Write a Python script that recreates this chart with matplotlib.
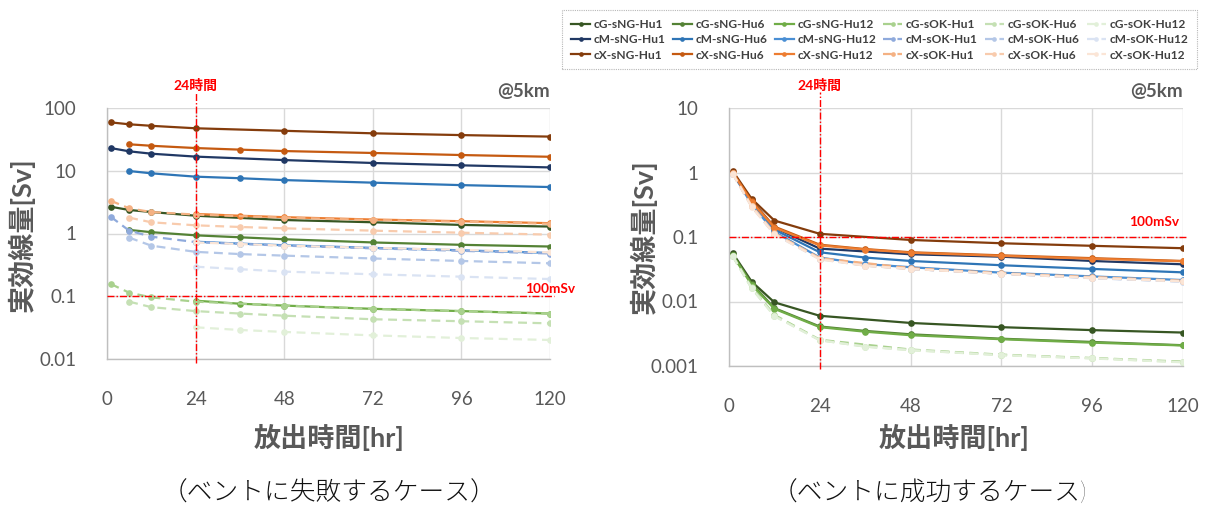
import matplotlib
matplotlib.use("Agg")
import matplotlib.pyplot as plt
from matplotlib import transforms

plt.rcParams['font.family'] = ['Lato', 'Noto Sans CJK JP', 'DejaVu Sans']

# ---- data -------------------------------------------------------------
hours = [1, 6, 12, 24, 36, 48, 72, 96, 120]

series_names = [
    "cG-sNG-Hu1", "cG-sNG-Hu6", "cG-sNG-Hu12", "cG-sOK-Hu1", "cG-sOK-Hu6", "cG-sOK-Hu12",
    "cM-sNG-Hu1", "cM-sNG-Hu6", "cM-sNG-Hu12", "cM-sOK-Hu1", "cM-sOK-Hu6", "cM-sOK-Hu12",
    "cX-sNG-Hu1", "cX-sNG-Hu6", "cX-sNG-Hu12", "cX-sOK-Hu1", "cX-sOK-Hu6", "cX-sOK-Hu12",
]

series_colors = [
    "#375623", "#548235", "#70AD47", "#A9D18E", "#C5E0B4", "#E2F0D9",
    "#203864", "#2E75B6", "#4A8FD4", "#8FAADC", "#B4C7E7", "#DAE3F3",
    "#843C0C", "#C55A11", "#ED7D31", "#F4B183", "#F8CBAD", "#FBE5D6",
]

# vent failure case (dose in Sv)
fail_cG_sNG_Hu1 = [2.67, 2.37, 2.2, 1.92, None, 1.64, 1.51, 1.37, 1.29]
fail_cG_sNG_Hu6 = [None, 1.14, 1.05, 0.935, 0.87, 0.81, 0.72, 0.66, 0.62]
fail_cG_sNG_Hu12 = [None, None, None, 0.085, 0.076, 0.071, 0.063, 0.058, 0.053]
fail_cG_sOK_Hu1 = [0.157, 0.114, 0.096, 0.082, None, 0.071, 0.063, 0.058, 0.053]
fail_cG_sOK_Hu6 = [None, 0.082, 0.067, 0.058, 0.053, 0.049, 0.043, 0.040, 0.037]
fail_cG_sOK_Hu12 = [None, None, None, 0.032, 0.029, 0.027, 0.0238, 0.0216, 0.0201]
fail_cM_sNG_Hu1 = [23.0, 20.4, 18.7, 16.8, None, 14.8, 13.3, 12.2, 11.3]
fail_cM_sNG_Hu6 = [None, 9.9, 9.1, 8.05, 7.6, 7.1, 6.46, 5.9, 5.5]
fail_cM_sNG_Hu12 = [None, None, None, 0.74, 0.69, 0.65, 0.59, 0.54, 0.49]
fail_cM_sOK_Hu1 = [1.85, 1.11, 0.89, 0.73, None, 0.64, 0.58, 0.53, 0.48]
fail_cM_sOK_Hu6 = [None, 0.86, 0.64, 0.51, 0.47, 0.444, 0.40, 0.365, 0.335]
fail_cM_sOK_Hu12 = [None, None, None, 0.296, 0.27, 0.247, 0.224, 0.205, 0.188]
fail_cX_sNG_Hu1 = [59.0, 55.0, 52.0, 47.5, None, 43.3, 39.5, 37.0, 35.0]
fail_cX_sNG_Hu6 = [None, 26.4, 25.0, 23.0, 21.7, 20.6, 19.2, 17.8, 16.7]
fail_cX_sNG_Hu12 = [None, None, None, 2.05, 1.92, 1.82, 1.67, 1.57, 1.46]
fail_cX_sOK_Hu1 = [3.33, 2.52, 2.2, 2.0, None, 1.79, 1.64, 1.54, 1.43]
fail_cX_sOK_Hu6 = [None, 1.79, 1.51, 1.35, 1.27, 1.21, 1.11, 1.03, 0.96]
fail_cX_sOK_Hu12 = [None, None, None, 0.72, 0.68, 0.64, 0.59, 0.55, 0.50]

# vent success case (dose in Sv)
ok_cG_sNG_Hu1 = [0.056, 0.0203, 0.0097, 0.0060, None, 0.00465, 0.0040, 0.0036, 0.0033]
ok_cG_sNG_Hu6 = [0.053, 0.019, 0.0079, 0.0041, 0.0035, 0.0031, 0.00265, 0.00236, 0.0021]
ok_cG_sNG_Hu12 = [0.052, 0.018, 0.0077, 0.0040, 0.0034, 0.0030, 0.0026, 0.0023, 0.00208]
ok_cG_sOK_Hu1 = [0.051, 0.0165, 0.0062, 0.00255, None, 0.0018, 0.0015, 0.00133, 0.00117]
ok_cG_sOK_Hu6 = [0.050, 0.016, 0.0060, 0.00252, 0.0020, 0.00177, 0.00148, 0.00132, 0.00115]
ok_cG_sOK_Hu12 = [0.050, 0.016, 0.0059, 0.0025, 0.0020, 0.00176, 0.00147, 0.00131, 0.00114]
ok_cM_sNG_Hu1 = [1.0, 0.37, 0.14, 0.066, None, 0.054, 0.0495, 0.0425, 0.0377]
ok_cM_sNG_Hu6 = [0.98, 0.34, 0.13, 0.058, 0.048, 0.0425, 0.0365, 0.032, 0.0283]
ok_cM_sNG_Hu12 = [0.97, 0.32, 0.12, 0.048, 0.038, 0.034, 0.028, 0.0245, 0.0215]
ok_cM_sOK_Hu1 = [0.96, 0.30, 0.112, 0.046, None, 0.032, 0.027, 0.0232, 0.0205]
ok_cM_sOK_Hu6 = [0.96, 0.30, 0.111, 0.046, 0.036, 0.032, 0.027, 0.023, 0.0204]
ok_cM_sOK_Hu12 = [0.95, 0.30, 0.110, 0.045, 0.036, 0.032, 0.027, 0.023, 0.0203]
ok_cX_sNG_Hu1 = [1.05, 0.39, 0.18, 0.112, None, 0.090, 0.080, 0.073, 0.067]
ok_cX_sNG_Hu6 = [1.0, 0.36, 0.145, 0.076, 0.065, 0.058, 0.052, 0.047, 0.0425]
ok_cX_sNG_Hu12 = [0.98, 0.35, 0.14, 0.074, 0.064, 0.057, 0.051, 0.046, 0.042]
ok_cX_sOK_Hu1 = [0.97, 0.30, 0.115, 0.047, None, 0.033, 0.0275, 0.024, 0.021]
ok_cX_sOK_Hu6 = [0.96, 0.30, 0.113, 0.046, 0.036, 0.032, 0.027, 0.0235, 0.0208]
ok_cX_sOK_Hu12 = [0.95, 0.29, 0.110, 0.045, 0.036, 0.032, 0.027, 0.0232, 0.0205]

fail_series = [
    fail_cG_sNG_Hu1, fail_cG_sNG_Hu6, fail_cG_sNG_Hu12, fail_cG_sOK_Hu1, fail_cG_sOK_Hu6, fail_cG_sOK_Hu12,
    fail_cM_sNG_Hu1, fail_cM_sNG_Hu6, fail_cM_sNG_Hu12, fail_cM_sOK_Hu1, fail_cM_sOK_Hu6, fail_cM_sOK_Hu12,
    fail_cX_sNG_Hu1, fail_cX_sNG_Hu6, fail_cX_sNG_Hu12, fail_cX_sOK_Hu1, fail_cX_sOK_Hu6, fail_cX_sOK_Hu12,
]
ok_series = [
    ok_cG_sNG_Hu1, ok_cG_sNG_Hu6, ok_cG_sNG_Hu12, ok_cG_sOK_Hu1, ok_cG_sOK_Hu6, ok_cG_sOK_Hu12,
    ok_cM_sNG_Hu1, ok_cM_sNG_Hu6, ok_cM_sNG_Hu12, ok_cM_sOK_Hu1, ok_cM_sOK_Hu6, ok_cM_sOK_Hu12,
    ok_cX_sNG_Hu1, ok_cX_sNG_Hu6, ok_cX_sNG_Hu12, ok_cX_sOK_Hu1, ok_cX_sOK_Hu6, ok_cX_sOK_Hu12,
]

x_ticks = [0, 24, 48, 72, 96, 120]
fail_y_ticks = [0.01, 0.1, 1, 10, 100]
fail_y_labels = ["0.01", "0.1", "1", "10", "100"]
ok_y_ticks = [0.001, 0.01, 0.1, 1, 10]
ok_y_labels = ["0.001", "0.01", "0.1", "1", "10"]

limit_dose = 0.1          # 100 mSv
marker_hour = 24

GRAY = "#595959"
RED = "#FF0000"

# ---- figure -------------------------------------------------------------
W, H = 1211, 508
fig = plt.figure(figsize=(W / 100, H / 100), dpi=100)


def fx(px):
    return px / W


def fy(py):
    return 1 - py / H


ax_fail = fig.add_axes([fx(107), fy(359), fx(550) - fx(107), fy(108) - fy(359)])
ax_ok = fig.add_axes([fx(729), fy(366), fx(1183) - fx(729), fy(108) - fy(366)])


def style_axes(ax, yticks, ylabels):
    ax.set_yscale("log")
    ax.set_xlim(0, 120)
    ax.set_ylim(yticks[0], yticks[-1])
    ax.set_xticks(x_ticks)
    ax.set_xticklabels([str(t) for t in x_ticks])
    ax.set_yticks(yticks)
    ax.set_yticklabels(ylabels)
    ax.minorticks_off()
    ax.tick_params(axis="both", length=0, labelsize=13.5, labelcolor=GRAY)
    ax.tick_params(axis="x", pad=23)
    ax.tick_params(axis="y", pad=22)
    ax.grid(True, color="#D9D9D9", linewidth=1.0)
    ax.set_axisbelow(True)
    for side in ("top", "right"):
        ax.spines[side].set_visible(False)
    for side in ("left", "bottom"):
        ax.spines[side].set_color("#BFBFBF")
        ax.spines[side].set_linewidth(1.0)


def draw_series(ax, data_list):
    handles = []
    for name, color, vals in zip(series_names, series_colors, data_list):
        xs = [h for h, v in zip(hours, vals) if v is not None]
        ys = [v for v in vals if v is not None]
        dashed = "sOK" in name
        ls = (0, (4, 2.5)) if dashed else "-"
        (ln,) = ax.plot(xs, ys, color=color, linestyle=ls, linewidth=1.6,
                        marker="o", markersize=4.8, markeredgewidth=0,
                        label=name, zorder=3)
        handles.append(ln)
    return handles


def draw_guides(ax, top_frac, bottom_frac, label_x, label_dy_px, label24_y):
    ax.plot([marker_hour, marker_hour], [bottom_frac, top_frac],
            transform=ax.get_xaxis_transform(), color=RED,
            linestyle=(0, (5, 1.5, 1, 1.5)), linewidth=1.0, clip_on=False, zorder=4)
    ax.plot([0, 1.01], [limit_dose, limit_dose],
            transform=ax.get_yaxis_transform(), color=RED,
            linestyle=(0, (5, 1.5, 1, 1.5)), linewidth=1.0, clip_on=False, zorder=4)
    ax.text(marker_hour, label24_y, "24時間", transform=ax.get_xaxis_transform(),
            color=RED, fontsize=10, fontweight="bold", ha="center", va="center")
    off = transforms.offset_copy(ax.get_yaxis_transform(), fig=fig, x=0, y=label_dy_px,
                                 units="dots")
    ax.text(label_x, limit_dose, "100mSv", transform=off, color=RED,
            fontsize=9.8, fontweight="bold", ha="right", va="bottom")
    ax.text(1.0, 1.065, "@5km", transform=ax.transAxes, color=GRAY,
            fontsize=13.5, fontweight="bold", ha="right", va="center")


style_axes(ax_fail, fail_y_ticks, fail_y_labels)
style_axes(ax_ok, ok_y_ticks, ok_y_labels)

handles = draw_series(ax_fail, fail_series)
draw_series(ax_ok, ok_series)

draw_guides(ax_fail, (359 - 92) / 251, -0.016, (575 - 107) / 443, 1, (359 - 85) / 251)
draw_guides(ax_ok, (366 - 92) / 258, -0.01, (1179 - 729) / 454, 9, (366 - 85) / 258)

# axis titles
for cx, cy in ((21, 235), (643, 237)):
    fig.text(fx(cx), fy(cy), "実効線量[Sv]", rotation=90, fontsize=19.5,
             fontweight="bold", color=GRAY, ha="center", va="center")
for cx in (329, 954):
    fig.text(fx(cx), fy(437), "放出時間[hr]", fontsize=19.5, fontweight="bold",
             color=GRAY, ha="center", va="center")

# case captions
fig.text(fx(329), fy(493), "（ベントに失敗するケース）", fontsize=18.5,
         fontweight="light", color="#111111", ha="center", va="center")
fig.text(fx(929), fy(493), "（ベントに成功するケース)", fontsize=18.5,
         fontweight="light", color="#111111", ha="center", va="center")

# legend: rows = G / M / X, columns = the six variants
order = [r * 6 + c for c in range(6) for r in range(3)]
leg = fig.legend([handles[i] for i in order], [series_names[i] for i in order],
                 ncol=6, loc="upper right", bbox_to_anchor=(fx(1203), fy(4)),
                 prop={"size": 8.6, "weight": "bold"}, frameon=True, fancybox=False,
                 handlelength=1.6, handletextpad=0.3, columnspacing=0.6,
                 labelspacing=0.36, borderpad=0.75, markerscale=0.7)
for txt in leg.get_texts():
    txt.set_color("#404040")
frame = leg.get_frame()
frame.set_edgecolor("#A6A6A6")
frame.set_linestyle((0, (1, 1)))
frame.set_linewidth(0.8)

fig.savefig("out.png", dpi=100)
